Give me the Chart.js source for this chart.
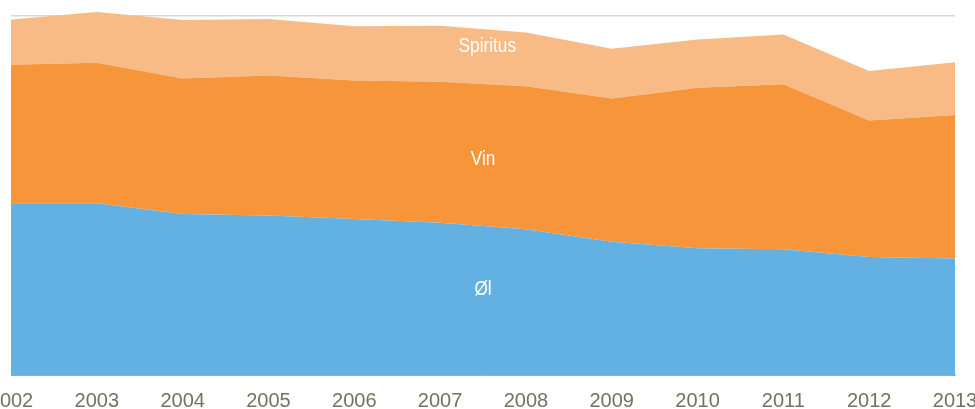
<!DOCTYPE html>
<html>
<head>
<meta charset="utf-8">
<script src="https://cdn.jsdelivr.net/npm/chart.js@4/dist/chart.umd.min.js"></script>
<style>
html,body{margin:0;padding:0;background:#fff;overflow:hidden;}
#wrap{width:975px;height:409px;position:relative;}
</style>
</head>
<body>
<div id="wrap"><canvas id="c" width="975" height="409"></canvas></div>
<script>
const years = ['2002','2003','2004','2005','2006','2007','2008','2009','2010','2011','2012','2013'];
const ol       = [3.35, 3.35, 3.14, 3.11, 3.04, 2.97, 2.84, 2.60, 2.47, 2.45, 2.30, 2.27];
const vin      = [2.70, 2.74, 2.64, 2.73, 2.70, 2.75, 2.79, 2.79, 3.13, 3.22, 2.66, 2.80];
const spiritus = [0.88, 0.99, 1.14, 1.10, 1.06, 1.09, 1.05, 0.97, 0.94, 0.97, 0.97, 1.03];
const seriesNames = ['Øl', 'Vin', 'Spiritus'];
const gridValues = [0, 7];

const FONT = "'Liberation Sans Narrow', 'Arial Narrow', 'Liberation Sans', sans-serif";

const areaLabels = {
  id: 'areaLabels',
  afterDatasetsDraw(chart) {
    const ctx = chart.ctx;
    const xs = chart.scales.x, ys = chart.scales.y;
    // label anchors in data space: category index, value
    const anchors = [[5.5, 1.68], [5.5, 4.21], [5.55, 6.42]];
    seriesNames.forEach((n, i) => {
      const a = anchors[i];
      const x = xs.getPixelForValue(Math.floor(a[0])) + (a[0] % 1) * (xs.getPixelForValue(1) - xs.getPixelForValue(0));
      ctx.save();
      ctx.fillStyle = '#ffffff';
      ctx.font = '21px ' + FONT;
      ctx.textAlign = 'center';
      ctx.textBaseline = 'middle';
      ctx.translate(x, ys.getPixelForValue(a[1]));
      ctx.scale(0.82, 1);
      ctx.fillText(n, 0, 0);
      ctx.restore();
    });
  }
};

new Chart(document.getElementById('c'), {
  type: 'line',
  data: {
    labels: years,
    datasets: [
      { label: seriesNames[0], data: ol, backgroundColor: '#63b0e2', borderWidth: 0, fill: 'origin', pointRadius: 0, tension: 0 },
      { label: seriesNames[1], data: vin, backgroundColor: '#f7953b', borderWidth: 0, fill: '-1', pointRadius: 0, tension: 0 },
      { label: seriesNames[2], data: spiritus, backgroundColor: '#f9bb85', borderWidth: 0, fill: '-1', pointRadius: 0, tension: 0 }
    ]
  },
  options: {
    responsive: false,
    animation: false,
    events: [],
    layout: { padding: { left: 11, right: 20, top: 0, bottom: 0 } },
    plugins: { legend: { display: false }, tooltip: { enabled: false } },
    scales: {
      x: {
        offset: false,
        grid: { display: false, drawTicks: false },
        border: { display: true, color: '#a8a8a8', width: 1 },
        ticks: { color: '#73735f', font: { family: FONT, size: 20 }, padding: 14, maxRotation: 0, autoSkip: false },
        afterFit(s) { s.paddingLeft = 0; s.paddingRight = 0; s.height = 34; }
      },
      y: {
        stacked: true,
        min: 0, max: 7.312,
        ticks: { display: false },
        afterBuildTicks(s) { s.ticks = gridValues.map(v => ({ value: v })); },
        grid: { color: '#d9d9d1', lineWidth: 1.5, drawTicks: false },
        border: { display: false },
        afterFit(s) { s.width = 0; }
      }
    }
  },
  plugins: [areaLabels]
});
</script>
</body>
</html>
